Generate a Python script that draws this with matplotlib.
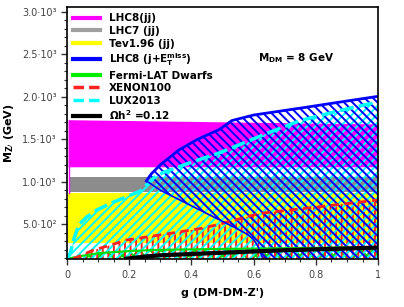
import numpy as np
import matplotlib
matplotlib.use("Agg")
import matplotlib.pyplot as plt
from matplotlib.lines import Line2D
from matplotlib.ticker import FuncFormatter, MultipleLocator

# ---------- data ----------
# solid excluded bands (dijet searches)
lhc8_jj_g = [0.003, 1.0]
lhc8_jj_top = [1730, 1680]
lhc8_jj_bot = [1176, 1176]
lhc7_jj = (880, 1060)
tev_jj = (275, 865)

# LHC8 mono-jet: upper and lower boundary of the allowed blob
mono_up_g = [0.255, 0.27, 0.30, 0.36, 0.42, 0.49, 0.53, 0.60, 0.75, 0.90, 1.0]
mono_up_m = [1010, 1090, 1200, 1375, 1500, 1615, 1720, 1785, 1866, 1950, 2005]
mono_lo_g = [0.255, 0.30, 0.36, 0.42, 0.48, 0.54, 0.58, 0.60, 0.615, 0.63]
mono_lo_m = [1010, 900, 790, 680, 570, 460, 380, 320, 230, 90]

# LUX2013
lux_g = [0.0, 0.01, 0.021, 0.037, 0.064, 0.096, 0.139, 0.192, 0.235, 0.26,
         0.28, 0.31, 0.40, 0.49, 0.65, 0.75, 0.88, 1.0]
lux_m = [90, 157, 314, 490, 588, 667, 745, 824, 890, 980,
         1050, 1110, 1230, 1340, 1580, 1720, 1840, 1940]

# XENON100
xe_g = [0.02, 0.085, 0.14, 0.19, 0.26, 0.33, 0.43, 0.49, 0.62, 0.81, 1.0]
xe_m = [95, 196, 255, 314, 353, 392, 451, 500, 628, 706, 785]

# Fermi-LAT dwarfs
fermi_g = [0.0, 0.05, 0.1, 0.2, 0.3, 0.5, 0.7, 1.0]
fermi_m = [95, 130, 160, 185, 200, 210, 218, 232]

# relic density
relic_g = [0.19, 0.25, 0.3, 0.4, 0.5, 0.6, 0.7, 0.8, 0.9, 1.0]
relic_m = [95, 120, 135, 150, 165, 180, 195, 205, 215, 226]

y_lo, y_hi = 90, 3055

plt.rcParams["hatch.linewidth"] = 1.4

fig = plt.figure(figsize=(4.04, 3.07), dpi=100)
ax = fig.add_axes([0.166, 0.156, 0.770, 0.821])

# ---------- solid bands ----------
ax.fill_between(lhc8_jj_g, lhc8_jj_bot, lhc8_jj_top, color="#ff00ff", lw=0, zorder=1)
ax.fill_between([0.005, 1.0], lhc7_jj[0], lhc7_jj[1], color="#8c8c8c", lw=0, zorder=1)
ax.fill_between([0.003, 1.0], tev_jj[0], tev_jj[1], color="#ffff00", lw=0, zorder=1)
ax.plot([0.007, 0.007], [870, 1176], color="#ff00ff", lw=1, zorder=1)

# ---------- hatched regions ----------
ax.fill_between(fermi_g, y_lo, fermi_m, facecolor="none", edgecolor="#00dd00",
                hatch="xxx", lw=0, zorder=2)
ax.fill_between(xe_g, y_lo, xe_m, facecolor="none", edgecolor="#ff2020",
                hatch="|||", lw=0, zorder=3)
ax.fill_between(lux_g, y_lo, lux_m, facecolor="none", edgecolor="#00ffff",
                hatch="////", lw=0, zorder=4)
poly_g = mono_up_g + [1.0, 1.0] + mono_lo_g[::-1]
poly_m = mono_up_m + [y_lo, y_lo] + mono_lo_m[::-1]
ax.fill(poly_g, poly_m, facecolor="none", edgecolor="#0000ff",
        hatch="\\\\\\\\", lw=0, zorder=5)

# ---------- boundary lines ----------
ax.plot(fermi_g, fermi_m, color="#00dd00", lw=1.5, zorder=6)
ax.plot(xe_g, xe_m, color="#ff2020", lw=2, ls=(0, (3, 2)), zorder=6)
ax.plot(lux_g, lux_m, color="#00ffff", lw=2.5, ls=(0, (4, 1.5)), zorder=6)
ax.plot(mono_up_g, mono_up_m, color="#0000ff", lw=2, zorder=7)
ax.plot(mono_lo_g, mono_lo_m, color="#0000ff", lw=1.2, zorder=7)
ax.plot(relic_g, relic_m, color="black", lw=3, zorder=8)

# ---------- axes ----------
ax.set_xlim(0, 1)
ax.set_ylim(y_lo, y_hi)
ax.xaxis.set_major_locator(MultipleLocator(0.2))
ax.xaxis.set_minor_locator(MultipleLocator(0.05))
ax.yaxis.set_major_locator(MultipleLocator(500))
ax.yaxis.set_minor_locator(MultipleLocator(100))

sup = {2: "\u00b2", 3: "\u00b3"}


def yfmt(v, pos):
    if v <= 0:
        return "0"
    e = int(np.floor(np.log10(v)))
    return f"{v / 10**e:.1f}\u00b710{sup.get(e, e)}"


def xfmt(v, pos):
    return f"{v:g}"


ax.yaxis.set_major_formatter(FuncFormatter(yfmt))
ax.xaxis.set_major_formatter(FuncFormatter(xfmt))
ax.tick_params(which="major", length=4, width=1, labelsize=7, colors="#333333",
               labelcolor="#444444")
ax.tick_params(which="minor", length=2.5, width=0.8, colors="#333333")
for s in ax.spines.values():
    s.set_linewidth(1.2)
    s.set_zorder(10)

ax.set_xlabel("g (DM-DM-Z')", fontsize=8, fontweight="bold", labelpad=6)
ax.set_ylabel(r"M$_{\mathbf{Z}\prime}$ (GeV)", fontsize=8, fontweight="bold",
              labelpad=4)

ax.text(0.735, 2455, r"M$_{\mathbf{DM}}$ = 8 GeV", fontsize=7.5, fontweight="bold",
        ha="center", va="center", zorder=11)

# ---------- legend ----------
handles = [
    Line2D([], [], color="#ff00ff", lw=3),
    Line2D([], [], color="#a0a0a0", lw=3),
    Line2D([], [], color="#ffff00", lw=3),
    Line2D([], [], color="#0000ff", lw=3),
    Line2D([], [], color="#00ee00", lw=3),
    Line2D([], [], color="#ff2020", lw=2.5, ls=(0, (3, 1.5))),
    Line2D([], [], color="#00ffff", lw=2.5, ls=(0, (3, 1.5))),
    Line2D([], [], color="black", lw=3),
]
labels = ["LHC8(jj)", "LHC7 (jj)", "Tev1.96 (jj)",
          r"LHC8 (j+E$_{\mathbf{T}}^{\mathbf{miss}}$)",
          "Fermi-LAT Dwarfs", "XENON100", "LUX2013",
          r"$\mathbf{\Omega h^2}$ =0.12"]
leg = ax.legend(handles, labels, loc="upper left", bbox_to_anchor=(0.0, 1.0),
                frameon=False, prop={"size": 7.5, "weight": "bold"},
                handlelength=2.6, handletextpad=0.8, labelspacing=0.25,
                borderaxespad=0.3, borderpad=0.3)
leg.set_zorder(12)

fig.savefig("out.png", dpi=100)
